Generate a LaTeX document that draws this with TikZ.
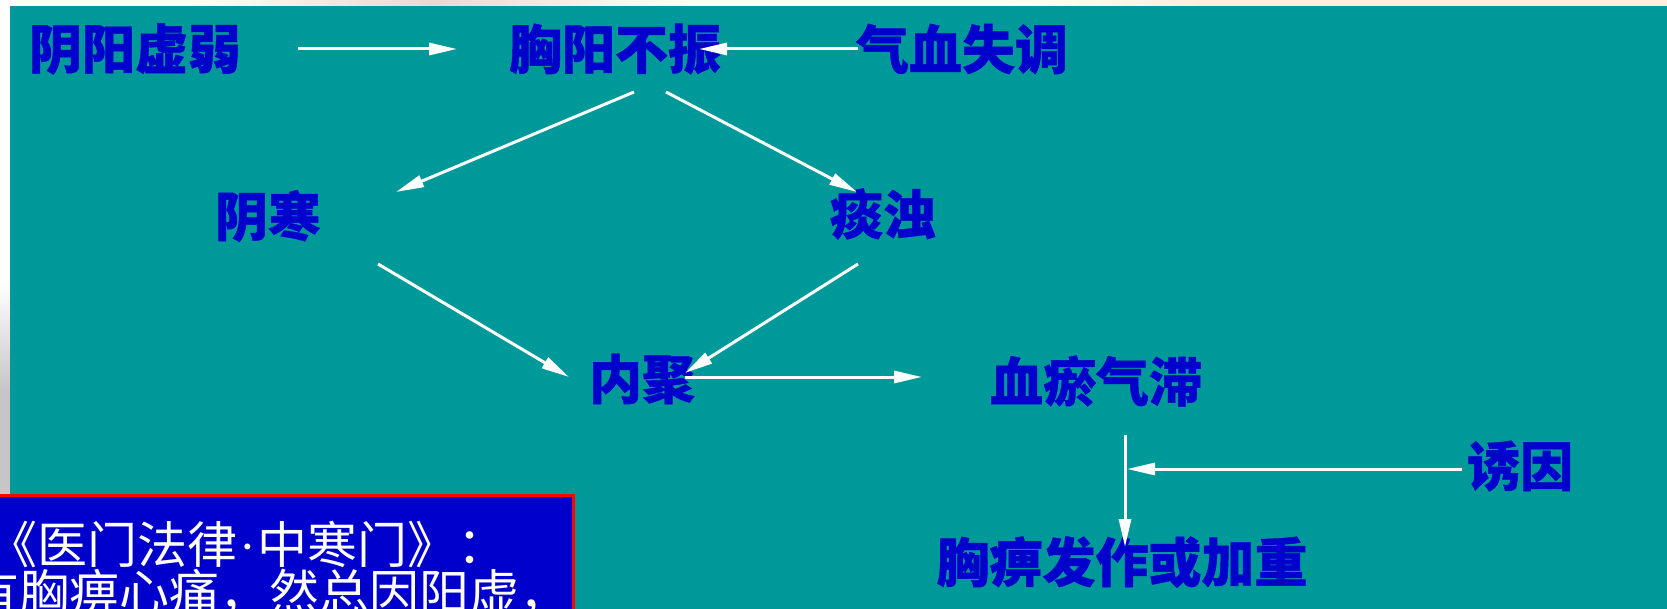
\documentclass[tikz,border=0pt]{standalone}
\usepackage{fontspec}
\newfontfamily\cjk{Noto Sans CJK SC}[BoldFeatures={FakeBold=0.9}]
\newfontfamily\dotfont{Liberation Serif}
\usetikzlibrary{arrows.meta,calc}
\definecolor{teal0}{RGB}{0,153,153}
\definecolor{lblue}{RGB}{0,0,204}
\definecolor{boxblue}{RGB}{0,0,204}
\definecolor{pinkish}{RGB}{232,216,222}
\definecolor{peach}{RGB}{250,238,224}
\definecolor{greyside}{RGB}{198,198,198}
\tikzset{
 lbl/.style={inner sep=0pt, text=lblue, font=\cjk\bfseries\fontsize{53}{53}\selectfont},
 boxtext/.style={inner sep=0pt, text=white, anchor=base west, font=\cjk\fontsize{50}{50}\selectfont},
 arr/.style={draw=white, line width=3pt, -{Triangle[length=28pt,width=12pt]}},
}
\begin{document}
\begin{tikzpicture}[x=1pt,y=-1pt]
\useasboundingbox (0,0) rectangle (1667,609);
\clip (0,0) rectangle (1667,609);
% background frame
\fill[white] (0,0) rectangle (1667,609);
\shade[left color=white, right color=pinkish] (180,0) rectangle (430,6);
\shade[left color=pinkish, right color=white] (430,0) rectangle (690,6);
\shade[left color=white, right color=peach] (1000,0) rectangle (1200,6);
\fill[peach] (1200,0) rectangle (1667,6);
\shade[top color=white, bottom color=greyside] (0,283) rectangle (10,390);
\fill[greyside] (0,390) rectangle (10,609);
\fill[teal0] (10,6) rectangle (1667,609);

% labels
\node[lbl] (yyxr) at (135,49) {阴阳虚弱};
\node[lbl] (xybz) at (615,49) {胸阳不振};
\node[lbl] (qxst) at (962,49) {气血失调};
\node[lbl] (yh) at (268,216) {阴寒};
\node[lbl] (tz) at (883,214) {痰浊};
\node[lbl] (nj) at (642,379) {内聚};
\node[lbl] (xyqz) at (1096,381) {血瘀气滞};
\node[lbl] (yy) at (1520,466) {诱因};
\node[lbl] (xbfz) at (1122,562) {胸痹发作或加重};

% connectors
\draw[arr] ($(yyxr)+(163,0)$) -- ($(xybz)+(-158,0)$);
\draw[arr] ($(qxst)+(-104,0)$) -- ($(xybz)+(84,0)$);
\draw[arr] ($(xybz)+(19,43)$) -- ($(yh)+(128,-24)$);
\draw[arr] ($(xybz)+(51,43)$) -- ($(tz)+(-26,-22)$);
\draw[arr] ($(yh)+(110,48)$) -- ($(nj)+(-73,-2)$);
\draw[arr] ($(tz)+(-25,50)$) -- ($(nj)+(43,-6)$);
\draw[arr] ($(nj)+(43,-2)$) -- ($(xyqz)+(-174,-4)$);
\draw[arr] ($(xyqz)+(29,54)$) -- ($(xbfz)+(3,-15)$);
\coordinate (join) at ($(xyqz)+(31,88)$);
\draw[arr] ($(yy)+(-58,3)$) -- (join);

% quotation box
\node[draw=red, line width=3pt, fill=boxblue, minimum width=590pt, minimum height=130pt, anchor=north west, inner sep=0pt] (qbox) at (-18,494) {};
\node[boxtext] (q1) at (-13,563) {《医门法律{\dotfont\kern2pt·\kern2pt}中寒门》：};
\node[boxtext] (q2) at (-31,611) {有胸痹心痛，然总因阳虚，};
\end{tikzpicture}
\end{document}
